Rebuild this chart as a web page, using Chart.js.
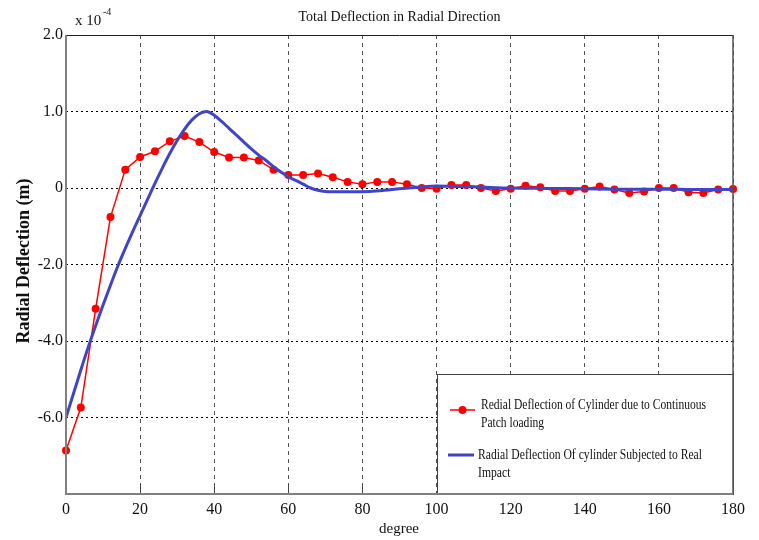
<!DOCTYPE html>
<html><head><meta charset="utf-8">
<script src="https://cdn.jsdelivr.net/npm/chart.js@4/dist/chart.umd.min.js"></script>
<style>html,body{margin:0;padding:0;background:#fff}#wrap{width:759px;height:540px;position:relative}</style>
</head><body><div id="wrap"><canvas id="c" width="759" height="540"></canvas></div>
<script>
// Values in plotted axis units (x 10^-4 m scale as drawn); tick labels as printed on the original figure
const patchDegrees = [0,4,8,12,16,20,24,28,32,36,40,44,48,52,56,60,64,68,72,76,80,84,88,92,96,100,104,108,112,116,120,124,128,132,136,140,144,148,152,156,160,164,168,172,176,180];
const patchLoading = [-3.43,-2.87,-1.58,-0.38,0.24,0.405,0.48,0.61,0.68,0.60,0.47,0.40,0.40,0.36,0.24,0.17,0.17,0.19,0.14,0.08,0.05,0.08,0.08,0.05,0.0,-0.01,0.04,0.04,0.0,-0.04,-0.01,0.03,0.01,-0.04,-0.04,-0.01,0.02,-0.02,-0.065,-0.045,0.0,0.0,-0.057,-0.065,-0.02,-0.013];
const impactDegrees = [0,2,4,6,8,10,12,14,16,18,20,22,24,26,28,30,32,34,36,38,40,42,44,46,48,50,52,54,56,58,60,62,64,66,68,70,74,78,82,86,90,95,100,110,120,130,140,150,160,170,180];
const realImpact = [-3.0,-2.69,-2.38,-2.08,-1.80,-1.53,-1.27,-1.02,-0.79,-0.57,-0.36,-0.15,0.06,0.26,0.45,0.62,0.77,0.89,0.97,1.0,0.95,0.87,0.78,0.69,0.60,0.51,0.43,0.36,0.28,0.21,0.145,0.10,0.05,0.0,-0.03,-0.045,-0.05,-0.05,-0.045,-0.03,-0.01,0.01,0.025,0.015,0.0,-0.005,-0.01,-0.015,-0.015,-0.02,-0.02];
const xTicks = [0,20,40,60,80,100,120,140,160,180];
const yTickValues = [2,1,0,-1,-2,-3,-4];
const yTickLabels = ['2.0','1.0','0','-2.0','-4.0','-6.0',''];
const seriesNames = ['Redial Deflection of Cylinder due to Continuous', 'Patch loading', 'Radial Deflection Of cylinder Subjected to Real', 'Impact'];
const chartTitle = 'Total Deflection in Radial Direction';
const xTitle = 'degree';
const yTitle = 'Radial Deflection (m)';

const SERIF = '"Liberation Serif", "Times New Roman", serif';
const RED = '#ff0000';
const BLUE = '#4045c8';

function condensedText(ctx, text, x, y, factor) {
  const w = ctx.measureText(text).width;
  ctx.fillText(text, x, y, w * factor);
}

const decor = {
  id: 'decor',
  afterDraw(chart) {
    const ctx = chart.ctx;
    const a = chart.chartArea;
    const xs = chart.scales.x;
    ctx.save();
    // bottom tick marks
    ctx.strokeStyle = '#444'; ctx.lineWidth = 1; ctx.setLineDash([]);
    xTicks.forEach(v => {
      const px = Math.round(xs.getPixelForValue(v)) + 0.5;
      ctx.beginPath(); ctx.moveTo(px, a.bottom); ctx.lineTo(px, a.bottom - 10); ctx.stroke();
    });
    // legend box
    const lx = 437, ly = 374, lw = a.right - 437, lh = a.bottom - 374;
    ctx.fillStyle = '#fff'; ctx.fillRect(lx, ly, lw, lh);
    ctx.strokeStyle = '#444'; ctx.lineWidth = 1;
    ctx.strokeRect(lx + 0.5, ly + 0.5, lw, lh);
    // legend entries
    ctx.strokeStyle = RED; ctx.lineWidth = 1.5;
    ctx.beginPath(); ctx.moveTo(450, 410); ctx.lineTo(475, 410); ctx.stroke();
    ctx.fillStyle = RED; ctx.beginPath(); ctx.arc(462.5, 410, 4, 0, Math.PI * 2); ctx.fill();
    ctx.strokeStyle = BLUE; ctx.lineWidth = 3;
    ctx.beginPath(); ctx.moveTo(448, 455); ctx.lineTo(474, 455); ctx.stroke();
    ctx.fillStyle = '#111'; ctx.font = '15px ' + SERIF; ctx.textAlign = 'left'; ctx.textBaseline = 'middle';
    const f1 = 225 / ctx.measureText(seriesNames[0]).width;
    const f2 = 224 / ctx.measureText(seriesNames[2]).width;
    condensedText(ctx, seriesNames[0], 481, 405, f1);
    condensedText(ctx, seriesNames[1], 481, 423, f1);
    condensedText(ctx, seriesNames[2], 478, 455, f2);
    condensedText(ctx, seriesNames[3], 478, 473, f2);
    // frame
    ctx.lineWidth = 1; ctx.strokeStyle = '#222';
    ctx.beginPath(); ctx.moveTo(a.left, a.top + 0.5); ctx.lineTo(a.right, a.top + 0.5); ctx.stroke();
    ctx.lineWidth = 1.5; ctx.strokeStyle = '#555';
    ctx.beginPath(); ctx.moveTo(a.right, a.top); ctx.lineTo(a.right, a.bottom); ctx.stroke();
    ctx.lineWidth = 2; ctx.strokeStyle = '#808080';
    ctx.beginPath(); ctx.moveTo(a.left, a.top); ctx.lineTo(a.left, a.bottom); ctx.lineTo(a.right, a.bottom); ctx.stroke();
    // texts
    ctx.fillStyle = '#111'; ctx.textBaseline = 'middle';
    ctx.font = '14px ' + SERIF; ctx.textAlign = 'center';
    ctx.fillText(chartTitle, (a.left + a.right) / 2, 17);
    ctx.font = '15px ' + SERIF; ctx.textAlign = 'left';
    ctx.fillText('x 10', 75, 21);
    ctx.font = '10px ' + SERIF;
    ctx.fillText('-4', 103, 12);
    ctx.font = '15px ' + SERIF; ctx.textAlign = 'center';
    ctx.fillText(xTitle, 399, 529);
    ctx.translate(24, 261); ctx.rotate(-Math.PI / 2);
    ctx.font = 'bold 18px ' + SERIF;
    ctx.fillText(yTitle, 0, 0);
    ctx.restore();
  }
};

new Chart(document.getElementById('c'), {
  type: 'line',
  data: {
    datasets: [
      {
        label: seriesNames[2] + ' ' + seriesNames[3],
        data: impactDegrees.map((d, i) => ({ x: d, y: realImpact[i] })),
        borderColor: BLUE, backgroundColor: BLUE, borderWidth: 3,
        pointRadius: 0, cubicInterpolationMode: 'monotone', order: 0
      },
      {
        label: seriesNames[0] + ' ' + seriesNames[1],
        data: patchDegrees.map((d, i) => ({ x: d, y: patchLoading[i] })),
        borderColor: RED, backgroundColor: RED, borderWidth: 1.5,
        pointRadius: 4, pointBorderWidth: 0, tension: 0, order: 1, clip: false
      }
    ]
  },
  options: {
    responsive: false, animation: false,
    layout: { padding: { left: 0, right: 26, top: 35, bottom: 0 } },
    plugins: { legend: { display: false }, title: { display: false }, tooltip: { enabled: false } },
    scales: {
      x: {
        type: 'linear', min: 0, max: 180,
        afterFit: s => { s.height = 46; },
        afterBuildTicks: s => { s.ticks = xTicks.map(v => ({ value: v })); },
        ticks: { font: { family: SERIF, size: 16 }, color: '#111', padding: 6, maxRotation: 0 },
        grid: { color: '#555', lineWidth: 1, drawTicks: false },
        border: { display: false, dash: [4, 4] }
      },
      y: {
        type: 'linear', min: -4, max: 2,
        afterFit: s => { s.width = 66; },
        afterBuildTicks: s => { s.ticks = yTickValues.map(v => ({ value: v })); },
        ticks: { font: { family: SERIF, size: 16 }, color: '#111', padding: 3,
          callback: (v) => { const i = yTickValues.indexOf(v); return i >= 0 ? yTickLabels[i] : ''; } },
        grid: { color: '#000', lineWidth: 1, drawTicks: false },
        border: { display: false, dash: [2, 3] }
      }
    }
  },
  plugins: [decor]
});
</script></body></html>
